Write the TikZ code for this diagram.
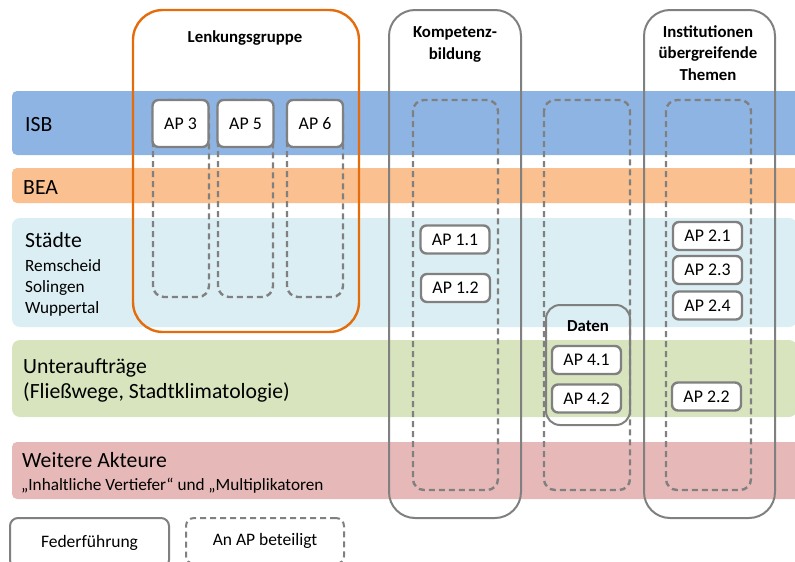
\documentclass[tikz,border=0pt]{standalone}
\usepackage{fontspec}
\setmainfont{Carlito}
\definecolor{isbblue}{HTML}{8EB4E3}
\definecolor{beaorange}{HTML}{FAC090}
\definecolor{stadtblue}{HTML}{DBEEF4}
\definecolor{uagreen}{HTML}{D7E4BD}
\definecolor{akteurred}{HTML}{E6B9B8}
\definecolor{lenkorange}{HTML}{E46C0A}
\definecolor{framegray}{HTML}{808080}

\begin{document}
\begin{tikzpicture}[x=1pt, y=-1pt,
  framebox/.style={draw=framegray, line width=2pt, rounded corners=26pt},
  dashbox/.style={draw=framegray, line width=2.4pt, dash pattern=on 6pt off 4pt, rounded corners=11pt},
  apbox/.style={draw=framegray, fill=white, line width=2.4pt, rounded corners=6pt,
    minimum width=69pt, minimum height=28pt, inner sep=0pt, font=\fontsize{17.8}{20}\selectfont},
  apbig/.style={apbox, minimum width=56pt, minimum height=47pt},
  title/.style={anchor=base, inner sep=0pt, align=center, font=\bfseries\fontsize{16.8}{21.5}\selectfont},
  bandlabel/.style={anchor=base west, inner sep=0pt, font=\fontsize{21.7}{25}\selectfont},
  sublabel/.style={anchor=base west, inner sep=0pt, font=\fontsize{17.2}{21}\selectfont},
  legendbox/.style={draw=framegray, fill=white, line width=2pt, rounded corners=8pt,
    inner sep=0pt, font=\fontsize{17.5}{20}\selectfont}]
\useasboundingbox (0,0) rectangle (795,562);
\clip (0,0) rectangle (795,562);
\fill[isbblue, rounded corners=5pt] (12,91) rectangle (805,155);
\fill[beaorange, rounded corners=5pt] (12,168) rectangle (805,203);
\fill[stadtblue, rounded corners=8pt] (12,218) rectangle (797,327);
\fill[uagreen, rounded corners=8pt] (12,340) rectangle (797,417);
\fill[akteurred, rounded corners=5pt] (12,442) rectangle (805,499);
\node[bandlabel] (isb) at (25,131) {ISB};
\node[bandlabel] (bea) at (23,194) {BEA};
\node[bandlabel] (staedte) at (25,247) {Städte};
\node[sublabel] (remscheid) at (25,271) {Remscheid};
\node[sublabel] (solingen) at (25,292) {Solingen};
\node[sublabel] (wuppertal) at (25,313) {Wuppertal};
\node[bandlabel] (unterauftraege) at (23,373) {Unteraufträge};
\node[bandlabel] (fliesswege) at (23,398) {(Fließwege, Stadtklimatologie)};
\node[bandlabel] (akteure) at (22,467) {Weitere Akteure};
\node[sublabel] (vertiefer) at (21,490) {„Inhaltliche Vertiefer“ und „Multiplikatoren};
\draw[framebox, draw=lenkorange, line width=2.4pt, rounded corners=30pt] (133,10) rectangle (359,332);
\draw[framebox] (389,10) rectangle (521,518);
\draw[framebox] (644,10) rectangle (775,518);
\node[title] (lenkung) at (245,42) {Lenkungsgruppe};
\node[title] (kompetenz) at (455,59) {Kompetenz-\\bildung};
\node[title] (institutionen) at (708,80) {Institutionen\\übergreifende\\Themen};
\draw[dashbox] (153,100) rectangle (209,297);
\draw[dashbox] (218,100) rectangle (273,297);
\draw[dashbox] (287,100) rectangle (343,297);
\draw[dashbox] (413,100) rectangle (498,490);
\draw[dashbox] (544,100) rectangle (630,490);
\draw[dashbox] (666,100) rectangle (751,490);
\draw[framebox, rounded corners=14pt] (546,305) rectangle (630,425);
\node[title] (daten) at (588,331) {Daten};
\node[apbig] (ap3) at (180.5,123.5) {AP 3};
\node[apbig] (ap5) at (245.5,123.5) {AP 5};
\node[apbig] (ap6) at (315,123.5) {AP 6};
\node[apbox] (ap11) at (455,239.5) {AP 1.1};
\node[apbox] (ap12) at (455.5,288) {AP 1.2};
\node[apbox] (ap41) at (586.5,360) {AP 4.1};
\node[apbox] (ap42) at (586.5,398.5) {AP 4.2};
\node[apbox] (ap21) at (707.5,236) {AP 2.1};
\node[apbox] (ap23) at (707.5,270) {AP 2.3};
\node[apbox] (ap24) at (707.5,305.5) {AP 2.4};
\node[apbox] (ap22) at (706.5,396.5) {AP 2.2};
\node[legendbox, minimum width=159pt, minimum height=50pt] (feder) at (89.5,543) {Federführung};
\node[legendbox, dash pattern=on 6pt off 4pt, minimum width=158pt, minimum height=46pt] (beteiligt) at (265,541) {An AP beteiligt};
\end{tikzpicture}
\end{document}
